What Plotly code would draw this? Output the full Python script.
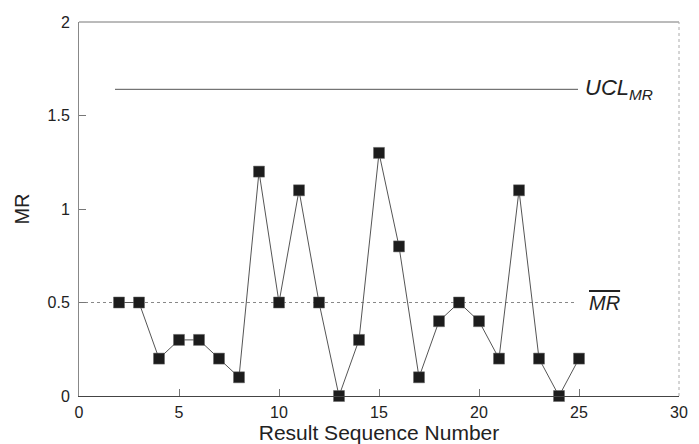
import plotly.graph_objects as go

seq = list(range(2, 26))
mr = [0.5, 0.5, 0.2, 0.3, 0.3, 0.2, 0.1, 1.2, 0.5, 1.1, 0.5, 0.0,
      0.3, 1.3, 0.8, 0.1, 0.4, 0.5, 0.4, 0.2, 1.1, 0.2, 0.0, 0.2]
mr_bar = 0.5
ucl_mr = 1.64
x_ticks = [0, 5, 10, 15, 20, 25, 30]
y_ticks = [0, 0.5, 1, 1.5, 2]
y_tick_text = ["0", "0.5", "1", "1.5", "2"]

fig = go.Figure()

# MR-bar centre line
fig.add_trace(go.Scatter(x=[0, 24.9], y=[mr_bar, mr_bar], mode="lines",
                         line=dict(color="#888888", width=1, dash="dot"),
                         hoverinfo="skip", showlegend=False))
# UCL line
fig.add_trace(go.Scatter(x=[1.8, 24.95], y=[ucl_mr, ucl_mr], mode="lines",
                         line=dict(color="#555555", width=1),
                         hoverinfo="skip", showlegend=False))
# data
fig.add_trace(go.Scatter(x=seq, y=mr, mode="lines+markers",
                         line=dict(color="#555555", width=1),
                         marker=dict(symbol="square", size=11, color="#1c1c1c",
                                     line=dict(color="#666666", width=0.5)),
                         cliponaxis=False, showlegend=False))

fig.add_annotation(x=25.2, y=ucl_mr, xref="x", yref="y", xanchor="left", yanchor="middle",
                   text="<i>UCL<sub>MR</sub></i>", showarrow=False,
                   font=dict(family="Liberation Sans, Arial", size=22, color="#222222"))
fig.add_annotation(x=25.4, y=mr_bar, xref="x", yref="y", xanchor="left", yanchor="middle",
                   text="<span style='text-decoration:overline'><i>MR</i></span>", showarrow=False,
                   font=dict(family="Liberation Sans, Arial", size=20, color="#222222"))

# frame
fig.add_shape(type="line", xref="paper", yref="paper", x0=0, x1=1, y0=1, y1=1,
              line=dict(color="#777777", width=1))
fig.add_shape(type="line", xref="paper", yref="paper", x0=1, x1=1, y0=0, y1=1,
              line=dict(color="#aaaaaa", width=1, dash="dot"))

# page body has an 8px margin, so the figure is sized to fill the rest of the window
fig.update_layout(
    width=691, height=436,
    margin=dict(l=71, r=20, t=14, b=48),
    paper_bgcolor="white", plot_bgcolor="white",
    font=dict(family="Liberation Sans, Arial", size=16, color="#222222"),
    xaxis=dict(range=[0, 30], tickvals=x_ticks, ticks="inside", ticklen=7,
               tickcolor="#777777", showgrid=False, zeroline=False,
               showline=True, linecolor="#444444", linewidth=1, automargin=False,
               title=dict(text="Result Sequence Number", font=dict(size=21), standoff=0),
               tickfont=dict(size=16), ticklabelstandoff=2),
    yaxis=dict(range=[0, 2], tickvals=y_ticks, ticktext=y_tick_text, ticks="inside", ticklen=7,
               tickcolor="#777777", showgrid=False, zeroline=False,
               showline=True, linecolor="#888888", linewidth=1, automargin=False,
               title=dict(text="MR", font=dict(size=20), standoff=12),
               tickfont=dict(size=16), ticklabelstandoff=5),
)

fig.write_html("out.html")
